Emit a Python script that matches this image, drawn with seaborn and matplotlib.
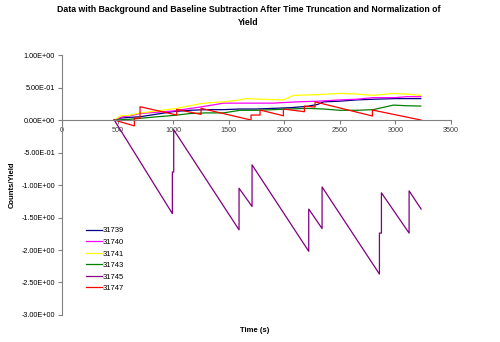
import pandas as pd
import seaborn as sns
import matplotlib.pyplot as plt
from matplotlib.ticker import FuncFormatter

# run numbers (legend order)
runs = ["31739", "31740", "31741", "31743", "31745", "31747"]
colors = ["#000080", "#FF00FF", "#FFFF00", "#008000", "#800080", "#FF0000"]

# values: time (s), counts/yield
t_31739 = [470, 530, 600, 702, 850, 1002, 1150, 1302, 1450, 1602, 1750, 1902, 2050, 2202, 2300, 2352, 2500, 2652, 2800, 3000, 3228]
y_31739 = [0.0, 0.03, 0.04, 0.05, 0.09, 0.13, 0.15, 0.16, 0.16, 0.17, 0.17, 0.18, 0.19, 0.21, 0.24, 0.28, 0.29, 0.31, 0.32, 0.33, 0.33]

t_31740 = [470, 545, 600, 702, 850, 1002, 1120, 1242, 1350, 1452, 1600, 1750, 1900, 2112, 2300, 2502, 2650, 2800, 3000, 3100, 3228]
y_31740 = [0.0, 0.05, 0.06, 0.10, 0.12, 0.14, 0.17, 0.20, 0.23, 0.26, 0.26, 0.26, 0.26, 0.28, 0.29, 0.31, 0.32, 0.345, 0.345, 0.36, 0.36]

t_31741 = [470, 530, 600, 702, 850, 1032, 1150, 1242, 1350, 1452, 1560, 1662, 1800, 1992, 2082, 2300, 2502, 2650, 2800, 2982, 3100, 3228]
y_31741 = [0.0, 0.067, 0.07, 0.108, 0.14, 0.18, 0.22, 0.25, 0.27, 0.28, 0.30, 0.33, 0.32, 0.31, 0.38, 0.39, 0.41, 0.40, 0.38, 0.41, 0.40, 0.38]

t_31743 = [470, 600, 702, 852, 1000, 1152, 1300, 1452, 1602, 1750, 1902, 2050, 2202, 2350, 2502, 2650, 2800, 2982, 3100, 3228]
y_31743 = [0.0, 0.01, 0.026, 0.05, 0.07, 0.10, 0.11, 0.11, 0.15, 0.15, 0.16, 0.17, 0.18, 0.17, 0.15, 0.15, 0.16, 0.23, 0.22, 0.215]

t_31745 = [470, 993, 993, 1005, 1005, 1593, 1593, 1710, 1710, 2220, 2220, 2340, 2340, 2856, 2856, 2874, 2874, 3123, 3123, 3231]
y_31745 = [0.0, -1.44, -0.80, -0.80, -0.15, -1.69, -1.05, -1.33, -0.69, -2.02, -1.37, -1.67, -1.03, -2.37, -1.74, -1.74, -1.12, -1.74, -1.09, -1.37]

t_31747 = [470, 651, 651, 702, 702, 1032, 1032, 1251, 1251, 1701, 1701, 1782, 1782, 1992, 1992, 2181, 2181, 2277, 2277, 2793, 2793, 3231]
y_31747 = [0.0, -0.09, 0.03, 0.03, 0.205, 0.077, 0.164, 0.087, 0.18, 0.0, 0.077, 0.077, 0.154, 0.066, 0.17, 0.128, 0.215, 0.20, 0.28, 0.062, 0.154, 0.0]

series = {
    "31739": (t_31739, y_31739),
    "31740": (t_31740, y_31740),
    "31741": (t_31741, y_31741),
    "31743": (t_31743, y_31743),
    "31745": (t_31745, y_31745),
    "31747": (t_31747, y_31747),
}

plt.rcParams['font.family'] = ['Liberation Sans', 'DejaVu Sans']

fig = plt.figure(figsize=(5, 3.42), dpi=100)
ax = fig.add_axes([0.124, 0.079, 0.778, 0.76])

for run, col in zip(runs, colors):
    df = pd.DataFrame({"time": series[run][0], "yield": series[run][1]})
    sns.lineplot(data=df, x="time", y="yield", ax=ax, color=col, lw=0.9,
                 estimator=None, sort=False, label=run)

ax.set_xlim(0, 3500)
ax.set_ylim(-3, 1)
ax.set_xticks(range(0, 3501, 500))
ax.set_yticks([1, 0.5, 0, -0.5, -1, -1.5, -2, -2.5, -3])
ax.yaxis.set_major_formatter(FuncFormatter(lambda v, p: "{:.2E}".format(v)))

ax.spines['top'].set_visible(False)
ax.spines['right'].set_visible(False)
ax.spines['bottom'].set_position(('data', 0))
for s in ['left', 'bottom']:
    ax.spines[s].set_color('#808080')
    ax.spines[s].set_linewidth(0.8)
ax.tick_params(axis='both', labelsize=5.2, color='#808080', length=3, width=0.8, pad=2)
ax.tick_params(axis='x', labelcolor='#404040')

ax.set_xlabel("Time (s)", fontsize=5.5, fontweight='bold')
ax.xaxis.set_label_coords(0.495, -0.045)
ax.set_ylabel("Counts/Yield", fontsize=5.5, fontweight='bold')
ax.yaxis.set_label_coords(-0.12, 0.5)

fig.suptitle("Data with Background and Baseline Subtraction After Time Truncation and Normalization of\nYield",
             fontsize=6.3, fontweight='bold', x=0.497, y=0.985, linespacing=1.6)

ax.legend(loc='upper left', bbox_to_anchor=(0.165, 0.345), bbox_transform=fig.transFigure,
          frameon=False, fontsize=5.5, handlelength=2.2, handletextpad=0.0,
          labelspacing=0.55, borderaxespad=0)

plt.savefig("out.png", dpi=100)
